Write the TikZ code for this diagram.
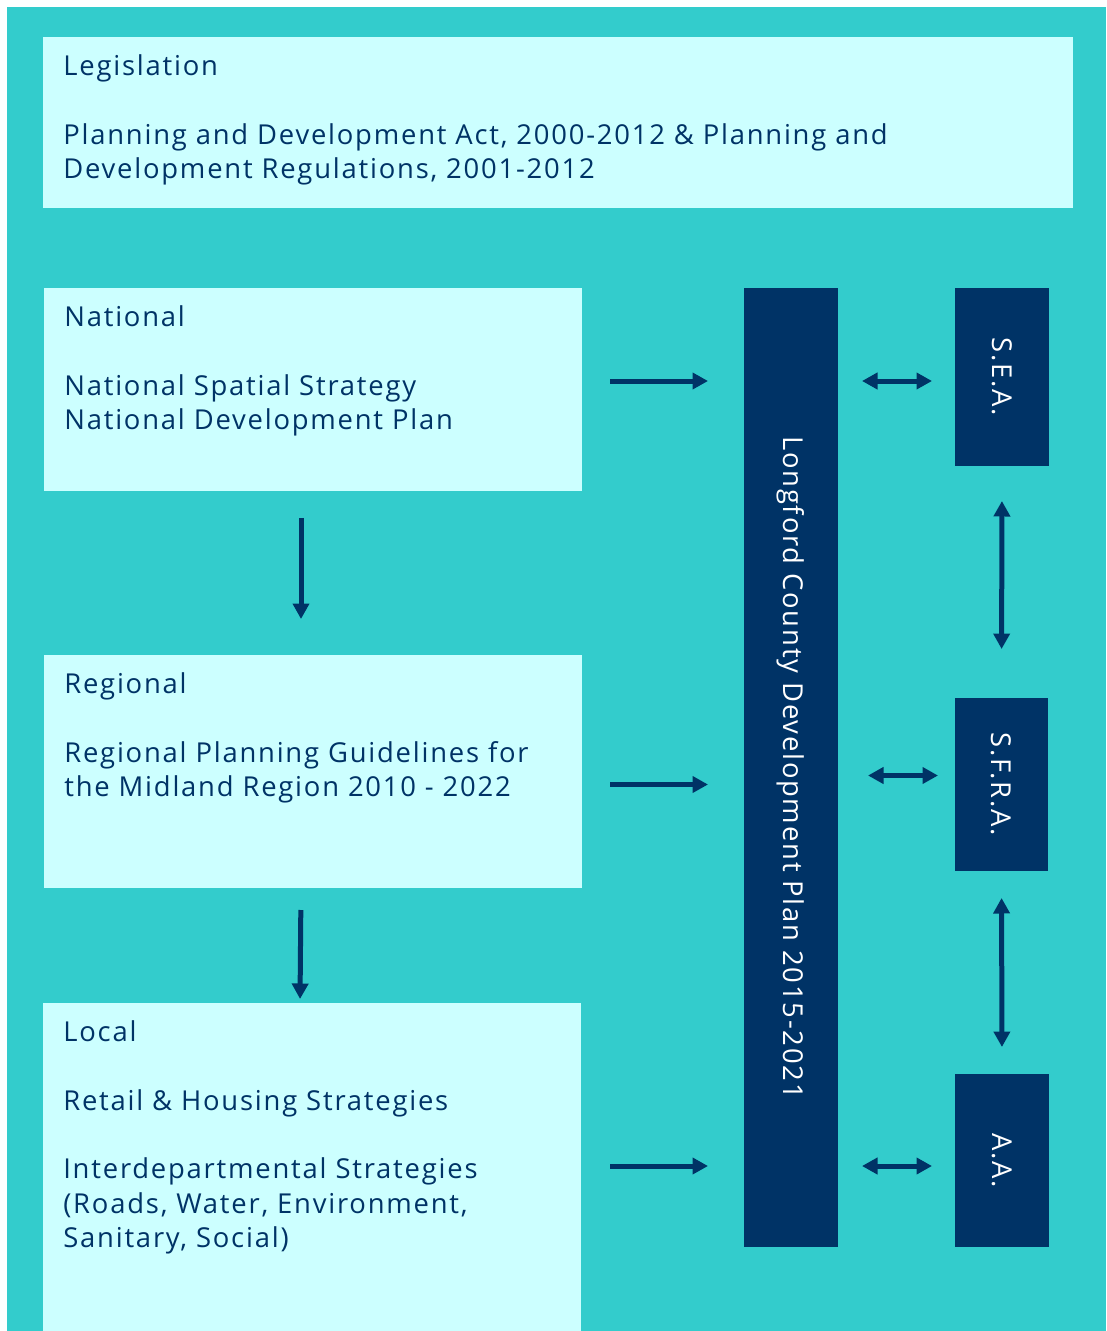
\documentclass[tikz,border=0pt]{standalone}
\usepackage{fontspec}
\setmainfont[LetterSpace=6.5]{Open Sans}
\usepackage{xcolor}
\usetikzlibrary{arrows.meta, positioning}

\definecolor{seaTeal}{HTML}{33CCCC}
\definecolor{paleCyan}{HTML}{CCFFFF}
\definecolor{navy}{HTML}{003366}

\newcommand{\px}{0.02cm}
\newcommand{\boxfont}{\fontsize{15.6}{19.6}\selectfont}

\begin{document}
\begin{tikzpicture}[x=0.02cm, y=-0.02cm,
  panel/.style={fill=paleCyan, inner sep=0pt, outer sep=0pt, anchor=north west},
  bar/.style={fill=navy, inner sep=0pt, outer sep=0pt, anchor=north west},
  paneltext/.style={text=navy, align=left, inner sep=0pt, anchor=north west, font=\boxfont},
  bartext/.style={text=white, rotate=-90, inner sep=0pt, font=\boxfont},
  feed/.style={draw=navy, line width=0.1cm, -{Triangle[length=0.31cm,width=0.32cm]}},
  link/.style={feed, {Triangle[length=0.31cm,width=0.32cm]}-{Triangle[length=0.31cm,width=0.32cm]}}]

  % Page and background
  \useasboundingbox (0,0) rectangle (1106,1331);
  \fill[seaTeal] (7,7) rectangle (1106,1331);

  % Light panels on the left
  \node[panel, minimum width=1030*\px, minimum height=171*\px] (leg) at (43,37) {};
  \node[panel, minimum width=538*\px, minimum height=203*\px] (nat) at (44,288) {};
  \node[panel, minimum width=538*\px, minimum height=233*\px] (reg) at (44,655) {};
  \node[panel, minimum width=538*\px, minimum height=328*\px] (loc) at (43,1003) {};

  % Dark bars on the right
  \node[bar, minimum width=94*\px, minimum height=959*\px] (ldp) at (744,288) {};
  \node[bar, minimum width=94*\px, minimum height=178*\px] (sea) at (955,288) {};
  \node[bar, minimum width=93*\px, minimum height=173*\px] (sfra) at (955,698) {};
  \node[bar, minimum width=94*\px, minimum height=173*\px] (aa) at (955,1074) {};

  % Panel texts
  \node[paneltext, below right=0.34cm and 0.4cm of leg.north west] (legtext)
    {Legislation\\[19.6pt]Planning and Development Act, 2000-2012 \& Planning and\\Development Regulations, 2001-2012};
  \node[paneltext, below right=0.34cm and 0.4cm of nat.north west] (nattext)
    {National\\[19.6pt]National Spatial Strategy\\National Development Plan};
  \node[paneltext, below right=0.34cm and 0.4cm of reg.north west] (regtext)
    {Regional\\[19.6pt]Regional Planning Guidelines for\\the Midland Region 2010 - 2022};
  \node[paneltext, below right=0.34cm and 0.4cm of loc.north west] (loctext)
    {Local\\[19.6pt]Retail \& Housing Strategies\\[19.6pt]Interdepartmental Strategies\\(Roads, Water, Environment,\\Sanitary, Social)};

  % Bar texts
  \node[bartext] (ldptext) at (ldp) {Longford County Development Plan 2015-2021};
  \node[bartext] (seatext) at (sea) {S.E.A.};
  \node[bartext] (sfratext) at (sfra) {S.F.R.A.};
  \node[bartext] (aatext) at (aa) {A.A.};

  % Arrows into the plan
  \draw[feed, shorten <=0.56cm, shorten >=0.72cm] ([yshift=-0.08cm]nat.east |- sea) -- ([yshift=-0.08cm]ldp.west |- sea);
  \draw[feed, shorten <=0.56cm, shorten >=0.72cm] (reg.east |- sfra) -- (ldp.west |- sfra);
  \draw[feed, shorten <=0.58cm, shorten >=0.72cm] ([yshift=-0.11cm]loc.east |- aa) -- ([yshift=-0.11cm]ldp.west |- aa);

  % Arrows down the hierarchy
  \draw[feed, shorten <=0.54cm, shorten >=0.72cm] ([xshift=-0.24cm]nat.south) -- ([xshift=-0.24cm]reg.north);
  \draw[feed, shorten <=0.44cm, shorten >=0.08cm] ([xshift=-0.24cm]reg.south) -- ([xshift=-0.24cm]loc.north);

  % Links to the assessments
  \draw[link, shorten <=0.48cm, shorten >=0.46cm] ([yshift=-0.08cm]ldp.east |- sea) -- ([yshift=-0.08cm]sea.west);
  \draw[link, shorten <=0.6cm, shorten >=0.34cm] ([yshift=0.18cm]ldp.east |- sfra) -- ([yshift=0.18cm]sfra.west);
  \draw[link, shorten <=0.48cm, shorten >=0.46cm] ([yshift=-0.11cm]ldp.east |- aa) -- ([yshift=-0.11cm]aa.west);
  \draw[link, shorten <=0.7cm, shorten >=0.98cm] (sea.south) -- (sfra.north);
  \draw[link, shorten <=0.54cm, shorten >=0.54cm] (sfra.south) -- (aa.north);
\end{tikzpicture}
\end{document}
